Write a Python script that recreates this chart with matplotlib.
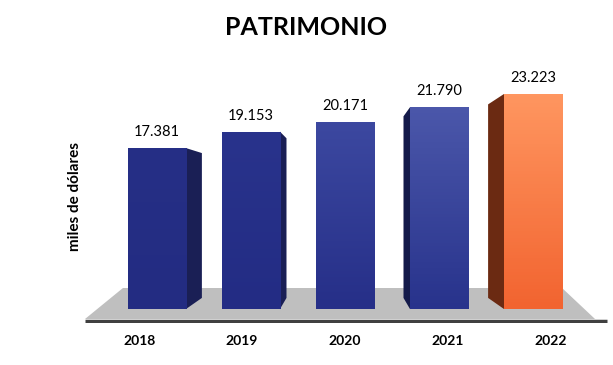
import numpy as np
import matplotlib
matplotlib.use("Agg")
import matplotlib.pyplot as plt
from matplotlib.colors import LinearSegmentedColormap
from matplotlib.patches import Polygon

plt.rcParams['font.family'] = ['Lato', 'DejaVu Sans']

# data
years = ["2018", "2019", "2020", "2021", "2022"]
values = [17.381, 19.153, 20.171, 21.790, 23.223]
value_labels = ["17.381", "19.153", "20.171", "21.790", "23.223"]

# colours per bar: front top, front bottom, side face
front_top = ["#262F86", "#29338C", "#3C48A0", "#4B57AA", "#FF9660"]
front_bot = ["#232C82", "#232C84", "#262F88", "#28338C", "#F26430"]
side_col = ["#1A1F55", "#1A1F55", "#1A1F55", "#141A4A", "#6B2A12"]

# fake-3D settings
bar_w = 0.617
vp = (2.0, 12.0)   # vanishing point (data coords)
depth = 0.1

fig = plt.figure(figsize=(6.13, 3.65), dpi=100)
ax = fig.add_axes([0, 0.1153, 1, 0.6723])
ax.set_xlim(-1.670, 4.851)
ax.set_ylim(-1.5, 25)
ax.axis("off")

# floor
floor = Polygon([(-0.766, -1.08), (-0.362, 2.27), (4.309, 2.27), (4.66, -1.08)],
                closed=True, facecolor="#BFBFBF", edgecolor="none", zorder=1)
ax.add_patch(floor)
ax.plot([-0.766, 4.787], [-1.30, -1.30], color="#404040", lw=2.5,
        solid_capstyle="butt", zorder=1)

x = np.arange(len(years))
bars = ax.bar(x, values, width=bar_w, color=front_bot, zorder=3)

for i, (b, v) in enumerate(zip(bars, values)):
    xl = b.get_x()
    xr = xl + b.get_width()
    # side face towards vanishing point
    edge = None
    if xr < vp[0]:
        edge = xr
    elif xl > vp[0]:
        edge = xl
    if edge is not None:
        ex = edge + depth * (vp[0] - edge)
        top_back = v + depth * (vp[1] - v)
        bot_back = depth * vp[1]
        side = Polygon([(edge, 0), (edge, v), (ex, top_back), (ex, bot_back)],
                       closed=True, facecolor=side_col[i], edgecolor="none", zorder=2)
        ax.add_patch(side)
    # vertical gradient on the front face
    cmap = LinearSegmentedColormap.from_list("g%d" % i, [front_bot[i], front_top[i]])
    grad = np.linspace(0, 1, 64).reshape(-1, 1)
    im = ax.imshow(grad, cmap=cmap, origin="lower", aspect="auto",
                   extent=[xl, xr, 0, v], zorder=3.5)
    im.set_clip_path(b)
    # value label
    ax.text(b.get_x() + b.get_width() / 2, v + 1.73, value_labels[i],
            ha="center", va="center", fontsize=10.5, color="#000000", zorder=5)

ax.set_xlim(-1.670, 4.851)
ax.set_ylim(-1.5, 25)

# category labels, spread slightly by perspective
for i, yr in enumerate(years):
    ax.text(vp[0] + (i - vp[0]) * 1.095, -3.46, yr, ha="center", va="center",
            fontsize=10, fontweight="bold", color="#000000")

fig.text(0.5, 0.926, "PATRIMONIO", ha="center", va="center",
         fontsize=18, fontweight="bold", color="#000000")
fig.text(0.122, 0.463, "miles de dólares", ha="center", va="center",
         rotation=90, fontsize=11, fontweight="bold", color="#000000")

fig.savefig("out.png", dpi=100)
